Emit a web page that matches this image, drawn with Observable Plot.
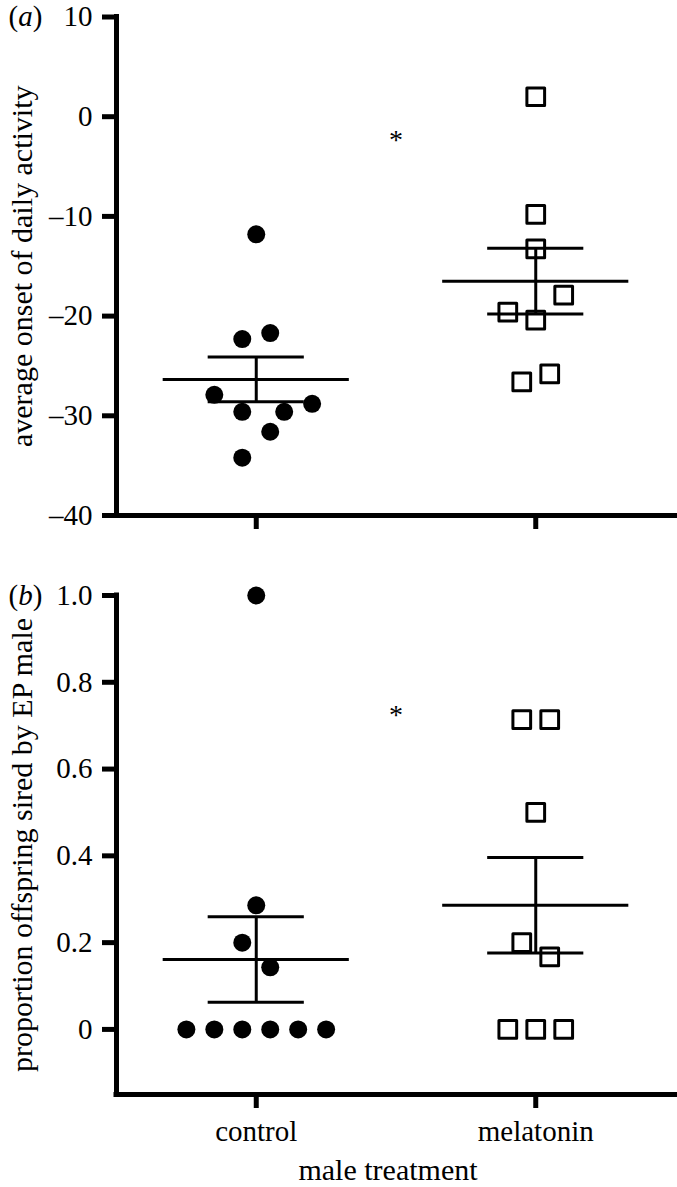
<!DOCTYPE html>
<html><head><meta charset="utf-8">
<script src="https://cdn.jsdelivr.net/npm/d3@7"></script>
<script src="https://cdn.jsdelivr.net/npm/@observablehq/plot@0.6"></script>
<style>
html,body{margin:0;padding:0;background:#fff;}
#chart{width:677px;position:relative;}
#chart svg{display:block;font-family:'Liberation Serif','Times New Roman',serif;}
#chart svg text{font-family:'Liberation Serif','Times New Roman',serif !important;}
</style></head><body><div id="chart"></div>
<script>
// ---- data ----
const treatments = ["control", "melatonin"];

// (a) average onset of daily activity
const onsetTicks = [10, 0, -10, -20, -30, -40];
const onsetControl = [-11.8, -22.3, -21.7, -27.9, -29.6, -29.6, -28.8, -31.6, -34.2];
const onsetControlSlot = [0, -1, 1, -3, -1, 2, 4, 1, -1];
const onsetMelatonin = [2.0, -9.8, -13.25, -17.9, -19.6, -20.4, -26.6, -25.8];
const onsetMelatoninSlot = [0, 0, 0, 2, -2, 0, -1, 1];
const onsetMean = [-26.35, -16.5];
const onsetSem = [2.25, 3.3];

// (b) proportion offspring sired by EP male
const propTicks = [0, 0.2, 0.4, 0.6, 0.8, 1.0];
const propControl = [1.0, 0.286, 0.2, 0.143, 0, 0, 0, 0, 0, 0];
const propControlSlot = [0, 0, -1, 1, -5, -3, -1, 1, 3, 5];
const propMelatonin = [0.714, 0.714, 0.5, 0.2, 0.167, 0, 0, 0];
const propMelatoninSlot = [-1, 1, 0, -1, 1, -2, 0, 2];
const propMean = [0.161, 0.286];
const propSem = [0.0985, 0.11];

// ---- styling constants ----
const FONT = "'Liberation Serif', 'Times New Roman', serif";
const jitterStep = 0.05;
const meanHalf = 0.333;
const capHalf = 0.172;

function pts(values, slots, cat) {
  return values.map((v, i) => ({treatment: treatments[cat], x: cat + slots[i] * jitterStep, v}));
}
function summary(means, sems) {
  return means.map((m, i) => ({x: i, mean: m, lo: m - sems[i], hi: m + sems[i]}));
}

function panel(o) {
  const ctrl = pts(o.control, o.controlSlot, 0);
  const mel = pts(o.melatonin, o.melatoninSlot, 1);
  const sum = summary(o.mean, o.sem);
  const marks = [
    Plot.ruleX([-0.5], {stroke: "black", strokeWidth: 5, strokeLinecap: "square"}),
    Plot.ruleY([o.yDomain[0]], {stroke: "black", strokeWidth: 5, strokeLinecap: "square"}),
    Plot.axisY({ticks: o.ticks, tickFormat: o.tickFormat, tickSize: 14, tickPadding: 10,
      fontSize: 29, strokeWidth: 5, label: null, fill: "black"}),
    Plot.axisX({ticks: [0, 1], tickFormat: o.xlabels ? (i => treatments[i]) : (() => ""),
      tickSize: 14, tickPadding: 12, fontSize: 29, strokeWidth: 5, label: null, fill: "black"}),
    Plot.ruleY(sum, {y: "mean", x1: d => d.x - meanHalf, x2: d => d.x + meanHalf, stroke: "black", strokeWidth: 3}),
    Plot.ruleY(sum, {y: "hi", x1: d => d.x - capHalf, x2: d => d.x + capHalf, stroke: "black", strokeWidth: 3}),
    Plot.ruleY(sum, {y: "lo", x1: d => d.x - capHalf, x2: d => d.x + capHalf, stroke: "black", strokeWidth: 3}),
    Plot.ruleX(sum, {x: "x", y1: "lo", y2: "hi", stroke: "black", strokeWidth: 3}),
    Plot.dot(ctrl, {x: "x", y: "v", r: 9, fill: "black", stroke: "none"}),
    Plot.dot(mel, {x: "x", y: "v", r: 10, symbol: "square", fill: "none", stroke: "black",
      strokeWidth: 3, strokeLinejoin: "round"}),
    Plot.text([{x: 0.5, y: o.starY}], {x: "x", y: "y", text: () => "*", fontSize: 28, fill: "black"}),
    Plot.text([o.tag], {text: d => d, frameAnchor: "top-left", dx: -108, textAnchor: "start",
      lineAnchor: "middle", fontSize: 29, fill: "black"}),
    Plot.text([o.ylabel], {text: d => d, frameAnchor: "left", rotate: -90, dx: -94,
      textAnchor: "middle", lineAnchor: "middle", fontSize: 30, fill: "black"})
  ];
  if (o.xtitle) {
    marks.push(Plot.text([o.xtitle], {text: d => d, frameAnchor: "bottom", dx: -8, dy: 76,
      textAnchor: "middle", lineAnchor: "middle", fontSize: 30, fill: "black"}));
  }
  const svg = Plot.plot({
    width: 677,
    height: o.height,
    marginLeft: 116,
    marginRight: 2,
    marginTop: o.marginTop,
    marginBottom: o.marginBottom,
    x: {domain: [-0.5, 1.5], axis: null},
    y: {domain: o.yDomain, axis: null},
    style: {background: "white", color: "black", overflow: "visible"},
    marks
  });
  svg.setAttribute("font-family", FONT);
  svg.querySelectorAll("text").forEach(t => {
    const m = /^\((\w)\)$/.exec(t.textContent);
    if (m) t.innerHTML = '(<tspan font-style="italic">' + m[1] + '</tspan>)';
  });
  return svg;
}

const fmtOnset = d => d < 0 ? "\u2013" + Math.abs(d) : String(d);
const fmtProp = d => d === 0 ? "0" : d.toFixed(1);

const chart = document.getElementById("chart");
chart.appendChild(panel({
  height: 555, marginTop: 16.5, marginBottom: 40,
  yDomain: [-40, 10], ticks: onsetTicks, tickFormat: fmtOnset,
  control: onsetControl, controlSlot: onsetControlSlot,
  melatonin: onsetMelatonin, melatoninSlot: onsetMelatoninSlot,
  mean: onsetMean, sem: onsetSem, starY: -2.3,
  tag: "(a)", ylabel: "average onset of daily activity", xlabels: false
}));
chart.appendChild(panel({
  height: 632, marginTop: 40, marginBottom: 93,
  yDomain: [-0.15, 1.0], ticks: propTicks, tickFormat: fmtProp,
  control: propControl, controlSlot: propControlSlot,
  melatonin: propMelatonin, melatoninSlot: propMelatoninSlot,
  mean: propMean, sem: propSem, starY: 0.725,
  tag: "(b)", ylabel: "proportion offspring sired by EP male", xlabels: true,
  xtitle: "male treatment"
}));
</script></body></html>
